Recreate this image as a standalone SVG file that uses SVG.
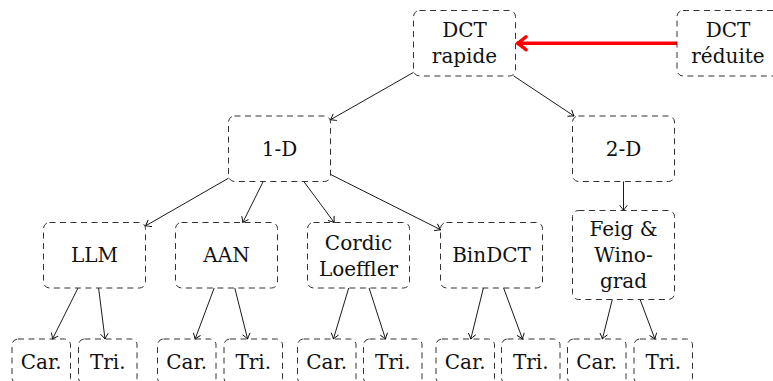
<svg xmlns="http://www.w3.org/2000/svg" width="773" height="381" viewBox="0 0 773 381">
<style>
.box{fill:none;stroke:#333;stroke-width:1;stroke-dasharray:6 4.5}
.t{font-family:'DejaVu Serif','Noto Serif','Liberation Serif',serif;font-size:20px;fill:#111;text-anchor:middle}
.edge{fill:none;stroke:#000;stroke-width:0.9;marker-end:url(#ah)}
.red{fill:none;stroke:#ff0000;stroke-width:3.6;marker-end:url(#rah)}
</style>
<defs>
<marker id="ah" markerUnits="userSpaceOnUse" viewBox="-7 -5 8 10" markerWidth="8" markerHeight="10" refX="0" refY="0" orient="auto">
<path d="M-5,-3.6 Q-1.5,-0.8 0,0 Q-1.5,0.8 -5,3.6" fill="none" stroke="#000" stroke-width="0.9" stroke-linecap="round"/>
</marker>
<marker id="rah" markerUnits="userSpaceOnUse" viewBox="-12 -9 14 18" markerWidth="14" markerHeight="18" refX="0" refY="0" orient="auto">
<path d="M-8.5,-6.5 Q-2.5,-1.5 0,0 Q-2.5,1.5 -8.5,6.5" fill="none" stroke="#ff0000" stroke-width="3.4" stroke-linecap="round" stroke-linejoin="round"/>
</marker>
</defs>

<g id="connectors">
<path class="red" d="M677,43.3 H517.5"/>
<path class="edge" d="M413.5,72.4 L330.5,119.7"/>
<path class="edge" d="M513.5,75.8 L574,116"/>
<path class="edge" d="M228.5,178.2 L145.5,225.9"/>
<path class="edge" d="M263.2,181.5 L242.8,222.5"/>
<path class="edge" d="M303.8,181.5 L334.2,222.5"/>
<path class="edge" d="M330.5,174.4 L440.5,229.7"/>
<path class="edge" d="M623.5,181.5 L623.5,210.5"/>
<path class="edge" d="M78,288 L52.5,339"/>
<path class="edge" d="M98.6,288 L105,339"/>
<path class="edge" d="M214.2,288 L195.1,339"/>
<path class="edge" d="M234.8,288 L247.6,339"/>
<path class="edge" d="M348.7,288 L333.4,339"/>
<path class="edge" d="M369.1,288 L385.5,339"/>
<path class="edge" d="M483.4,288 L470.8,339"/>
<path class="edge" d="M503.6,288 L522.5,339"/>
<path class="edge" d="M612.3,299.5 L602.4,339"/>
<path class="edge" d="M640.1,299.5 L654.9,339"/>
</g>

<g id="rapide"><rect class="box" x="413.5" y="10.5" width="102" height="65.5" rx="6"/><text class="t" x="464.5" y="37.3">DCT</text><text class="t" x="464.5" y="63.3">rapide</text></g>
<g id="reduite"><rect class="box" x="677" y="10.5" width="102" height="65.5" rx="6"/><text class="t" x="728" y="37.3">DCT</text><text class="t" x="728" y="63.3">réduite</text></g>
<g id="d1"><rect class="box" x="228.5" y="116" width="102" height="65.5" rx="6"/><text class="t" x="279.5" y="155.8">1-D</text></g>
<g id="d2"><rect class="box" x="572.5" y="116" width="102" height="65.5" rx="6"/><text class="t" x="623.5" y="155.8">2-D</text></g>
<g id="llm"><rect class="box" x="43.5" y="222.5" width="102" height="65.5" rx="6"/><text class="t" x="94.5" y="262.3">LLM</text></g>
<g id="aan"><rect class="box" x="175.5" y="222.5" width="102" height="65.5" rx="6"/><text class="t" x="226.5" y="262.3">AAN</text></g>
<g id="cordic"><rect class="box" x="307.5" y="222.5" width="102" height="65.5" rx="6"/><text class="t" x="358.5" y="249.5">Cordic</text><text class="t" x="358.5" y="275.5">Loeffler</text></g>
<g id="bindct"><rect class="box" x="440.5" y="222.5" width="102" height="65.5" rx="6"/><text class="t" x="491.5" y="262.3">BinDCT</text></g>
<g id="feig"><rect class="box" x="572.5" y="210.5" width="102" height="89" rx="6"/><text class="t" x="623.5" y="236">Feig &amp;</text><text class="t" x="623.5" y="262">Wino-</text><text class="t" x="623.5" y="288">grad</text></g>

<g id="car1"><rect class="box" x="12" y="339" width="58.5" height="45" rx="6"/><text class="t" x="41.25" y="369">Car.</text></g>
<g id="tri1"><rect class="box" x="78.5" y="339" width="58.5" height="45" rx="6"/><text class="t" x="107.75" y="369">Tri.</text></g>
<g id="car2"><rect class="box" x="157.5" y="339" width="58.5" height="45" rx="6"/><text class="t" x="186.75" y="369">Car.</text></g>
<g id="tri2"><rect class="box" x="224" y="339" width="58.5" height="45" rx="6"/><text class="t" x="253.25" y="369">Tri.</text></g>
<g id="car3"><rect class="box" x="297.5" y="339" width="58.5" height="45" rx="6"/><text class="t" x="326.75" y="369">Car.</text></g>
<g id="tri3"><rect class="box" x="363.5" y="339" width="58.5" height="45" rx="6"/><text class="t" x="392.75" y="369">Tri.</text></g>
<g id="car4"><rect class="box" x="436" y="339" width="58.5" height="45" rx="6"/><text class="t" x="465.25" y="369">Car.</text></g>
<g id="tri4"><rect class="box" x="501.5" y="339" width="58.5" height="45" rx="6"/><text class="t" x="530.75" y="369">Tri.</text></g>
<g id="car5"><rect class="box" x="567.5" y="339" width="58.5" height="45" rx="6"/><text class="t" x="596.75" y="369">Car.</text></g>
<g id="tri5"><rect class="box" x="634" y="339" width="58.5" height="45" rx="6"/><text class="t" x="663.25" y="369">Tri.</text></g>
</svg>
